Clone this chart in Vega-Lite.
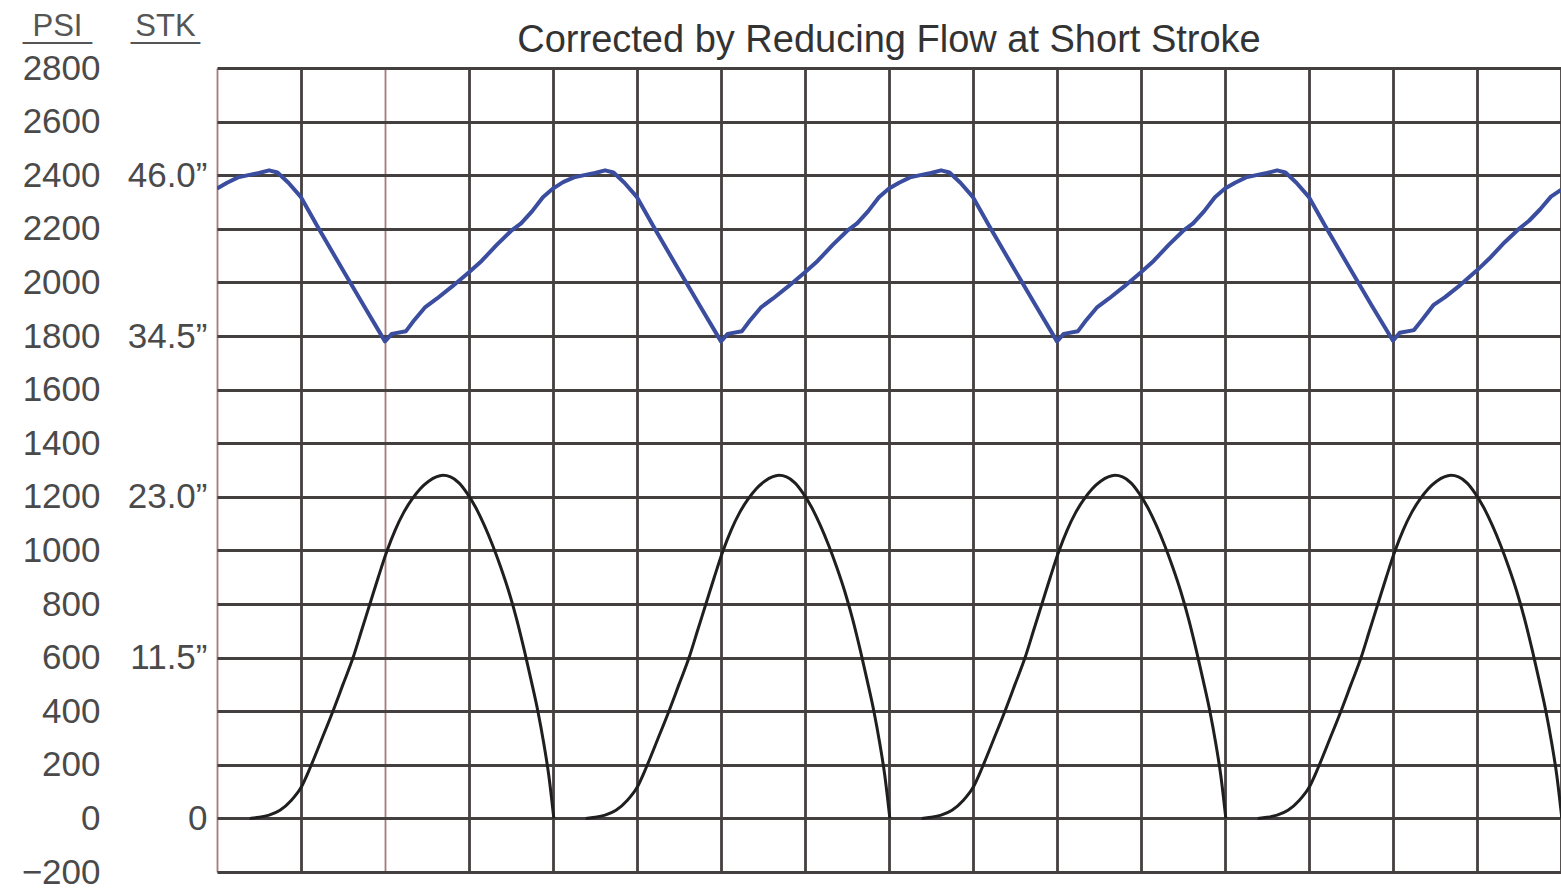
{
  "$schema": "https://vega.github.io/schema/vega-lite/v6.json",
  "width": 1344,
  "height": 804,
  "autosize": {"type": "none"},
  "padding": {"left": 217, "top": 68, "right": 0, "bottom": 18},
  "background": "white",
  "config": {"view": {"stroke": null}},
  "title": {
    "text": "Corrected by Reducing Flow at Short Stroke",
    "font": "Liberation Sans",
    "fontSize": 38,
    "fontWeight": "normal",
    "color": "#333333",
    "anchor": "middle",
    "frame": "group",
    "baseline": "alphabetic",
    "offset": -80
  },
  "datasets": {
    "psi": [
      {"u": 0.00, "v": 2350}, {"u": 0.12, "v": 2372}, {"u": 0.25, "v": 2392}, {"u": 0.40, "v": 2402}, {"u": 0.50, "v": 2408}, {"u": 0.62, "v": 2418}, {"u": 0.72, "v": 2410}, {"u": 0.85, "v": 2372}, {"u": 1.00, "v": 2318}, {"u": 1.20, "v": 2207}, {"u": 1.50, "v": 2045}, {"u": 1.75, "v": 1912}, {"u": 2.00, "v": 1780}, {"u": 2.08, "v": 1808}, {"u": 2.25, "v": 1818}, {"u": 2.35, "v": 1860}, {"u": 2.48, "v": 1908}, {"u": 2.62, "v": 1940}, {"u": 2.80, "v": 1985}, {"u": 3.00, "v": 2038}, {"u": 3.15, "v": 2080}, {"u": 3.33, "v": 2140}, {"u": 3.50, "v": 2192}, {"u": 3.62, "v": 2220}, {"u": 3.75, "v": 2265}, {"u": 3.88, "v": 2318},
      {"u": 4.00, "v": 2350}, {"u": 4.12, "v": 2374}, {"u": 4.25, "v": 2392}, {"u": 4.40, "v": 2402}, {"u": 4.50, "v": 2408}, {"u": 4.62, "v": 2418}, {"u": 4.72, "v": 2410}, {"u": 4.85, "v": 2372}, {"u": 5.00, "v": 2318}, {"u": 5.20, "v": 2207}, {"u": 5.50, "v": 2045}, {"u": 5.75, "v": 1912}, {"u": 6.00, "v": 1780}, {"u": 6.08, "v": 1808}, {"u": 6.25, "v": 1818}, {"u": 6.35, "v": 1860}, {"u": 6.48, "v": 1908}, {"u": 6.62, "v": 1940}, {"u": 6.80, "v": 1985}, {"u": 7.00, "v": 2038}, {"u": 7.15, "v": 2080}, {"u": 7.33, "v": 2140}, {"u": 7.50, "v": 2192}, {"u": 7.62, "v": 2220}, {"u": 7.75, "v": 2265}, {"u": 7.88, "v": 2318},
      {"u": 8.00, "v": 2350}, {"u": 8.12, "v": 2372}, {"u": 8.25, "v": 2392}, {"u": 8.40, "v": 2402}, {"u": 8.50, "v": 2408}, {"u": 8.62, "v": 2418}, {"u": 8.72, "v": 2410}, {"u": 8.85, "v": 2372}, {"u": 9.00, "v": 2318}, {"u": 9.20, "v": 2207}, {"u": 9.50, "v": 2045}, {"u": 9.75, "v": 1912}, {"u": 10.00, "v": 1780}, {"u": 10.08, "v": 1808}, {"u": 10.25, "v": 1818}, {"u": 10.35, "v": 1860}, {"u": 10.48, "v": 1908}, {"u": 10.62, "v": 1940}, {"u": 10.80, "v": 1985}, {"u": 11.00, "v": 2038}, {"u": 11.15, "v": 2080}, {"u": 11.33, "v": 2140}, {"u": 11.50, "v": 2192}, {"u": 11.62, "v": 2220}, {"u": 11.75, "v": 2265}, {"u": 11.88, "v": 2318},
      {"u": 12.00, "v": 2350}, {"u": 12.12, "v": 2372}, {"u": 12.25, "v": 2392}, {"u": 12.40, "v": 2402}, {"u": 12.50, "v": 2408}, {"u": 12.62, "v": 2418}, {"u": 12.72, "v": 2410}, {"u": 12.85, "v": 2372}, {"u": 13.00, "v": 2318}, {"u": 13.20, "v": 2207}, {"u": 13.50, "v": 2045}, {"u": 13.75, "v": 1912}, {"u": 14.00, "v": 1782}, {"u": 14.08, "v": 1812}, {"u": 14.25, "v": 1822}, {"u": 14.35, "v": 1862}, {"u": 14.48, "v": 1915}, {"u": 14.62, "v": 1945}, {"u": 14.80, "v": 1990}, {"u": 15.00, "v": 2045}, {"u": 15.15, "v": 2090}, {"u": 15.33, "v": 2150}, {"u": 15.50, "v": 2200}, {"u": 15.62, "v": 2230}, {"u": 15.75, "v": 2272}, {"u": 15.88, "v": 2320}, {"u": 16.00, "v": 2345}
    ],
    "stk": [
      {"cycle": 1, "u": 0.39, "v": 0}, {"cycle": 1, "u": 0.50, "v": 4}, {"cycle": 1, "u": 0.62, "v": 12}, {"cycle": 1, "u": 0.75, "v": 30}, {"cycle": 1, "u": 0.88, "v": 66}, {"cycle": 1, "u": 1.00, "v": 115}, {"cycle": 1, "u": 1.11, "v": 190}, {"cycle": 1, "u": 1.25, "v": 298}, {"cycle": 1, "u": 1.38, "v": 400}, {"cycle": 1, "u": 1.50, "v": 500}, {"cycle": 1, "u": 1.62, "v": 600}, {"cycle": 1, "u": 1.72, "v": 700}, {"cycle": 1, "u": 1.82, "v": 800}, {"cycle": 1, "u": 1.92, "v": 900}, {"cycle": 1, "u": 2.02, "v": 995}, {"cycle": 1, "u": 2.12, "v": 1075}, {"cycle": 1, "u": 2.22, "v": 1140}, {"cycle": 1, "u": 2.32, "v": 1190}, {"cycle": 1, "u": 2.42, "v": 1230}, {"cycle": 1, "u": 2.52, "v": 1258}, {"cycle": 1, "u": 2.61, "v": 1274}, {"cycle": 1, "u": 2.69, "v": 1280}, {"cycle": 1, "u": 2.78, "v": 1274}, {"cycle": 1, "u": 2.88, "v": 1252}, {"cycle": 1, "u": 2.98, "v": 1212}, {"cycle": 1, "u": 3.08, "v": 1160}, {"cycle": 1, "u": 3.18, "v": 1095}, {"cycle": 1, "u": 3.28, "v": 1020}, {"cycle": 1, "u": 3.38, "v": 935}, {"cycle": 1, "u": 3.48, "v": 840}, {"cycle": 1, "u": 3.57, "v": 740}, {"cycle": 1, "u": 3.66, "v": 625}, {"cycle": 1, "u": 3.74, "v": 515}, {"cycle": 1, "u": 3.82, "v": 400}, {"cycle": 1, "u": 3.89, "v": 280}, {"cycle": 1, "u": 3.95, "v": 160}, {"cycle": 1, "u": 4.01, "v": 0},
      {"cycle": 2, "u": 4.39, "v": 0}, {"cycle": 2, "u": 4.50, "v": 4}, {"cycle": 2, "u": 4.62, "v": 12}, {"cycle": 2, "u": 4.75, "v": 30}, {"cycle": 2, "u": 4.88, "v": 66}, {"cycle": 2, "u": 5.00, "v": 115}, {"cycle": 2, "u": 5.11, "v": 190}, {"cycle": 2, "u": 5.25, "v": 298}, {"cycle": 2, "u": 5.38, "v": 400}, {"cycle": 2, "u": 5.50, "v": 500}, {"cycle": 2, "u": 5.62, "v": 600}, {"cycle": 2, "u": 5.72, "v": 700}, {"cycle": 2, "u": 5.82, "v": 800}, {"cycle": 2, "u": 5.92, "v": 900}, {"cycle": 2, "u": 6.02, "v": 995}, {"cycle": 2, "u": 6.12, "v": 1075}, {"cycle": 2, "u": 6.22, "v": 1140}, {"cycle": 2, "u": 6.32, "v": 1190}, {"cycle": 2, "u": 6.42, "v": 1230}, {"cycle": 2, "u": 6.52, "v": 1258}, {"cycle": 2, "u": 6.61, "v": 1274}, {"cycle": 2, "u": 6.69, "v": 1280}, {"cycle": 2, "u": 6.78, "v": 1274}, {"cycle": 2, "u": 6.88, "v": 1252}, {"cycle": 2, "u": 6.98, "v": 1212}, {"cycle": 2, "u": 7.08, "v": 1160}, {"cycle": 2, "u": 7.18, "v": 1095}, {"cycle": 2, "u": 7.28, "v": 1020}, {"cycle": 2, "u": 7.38, "v": 935}, {"cycle": 2, "u": 7.48, "v": 840}, {"cycle": 2, "u": 7.57, "v": 740}, {"cycle": 2, "u": 7.66, "v": 625}, {"cycle": 2, "u": 7.74, "v": 515}, {"cycle": 2, "u": 7.82, "v": 400}, {"cycle": 2, "u": 7.89, "v": 280}, {"cycle": 2, "u": 7.95, "v": 160}, {"cycle": 2, "u": 8.01, "v": 0},
      {"cycle": 3, "u": 8.39, "v": 0}, {"cycle": 3, "u": 8.50, "v": 4}, {"cycle": 3, "u": 8.62, "v": 12}, {"cycle": 3, "u": 8.75, "v": 30}, {"cycle": 3, "u": 8.88, "v": 66}, {"cycle": 3, "u": 9.00, "v": 115}, {"cycle": 3, "u": 9.11, "v": 190}, {"cycle": 3, "u": 9.25, "v": 298}, {"cycle": 3, "u": 9.38, "v": 400}, {"cycle": 3, "u": 9.50, "v": 500}, {"cycle": 3, "u": 9.62, "v": 600}, {"cycle": 3, "u": 9.72, "v": 700}, {"cycle": 3, "u": 9.82, "v": 800}, {"cycle": 3, "u": 9.92, "v": 900}, {"cycle": 3, "u": 10.02, "v": 995}, {"cycle": 3, "u": 10.12, "v": 1075}, {"cycle": 3, "u": 10.22, "v": 1140}, {"cycle": 3, "u": 10.32, "v": 1190}, {"cycle": 3, "u": 10.42, "v": 1230}, {"cycle": 3, "u": 10.52, "v": 1258}, {"cycle": 3, "u": 10.61, "v": 1274}, {"cycle": 3, "u": 10.69, "v": 1280}, {"cycle": 3, "u": 10.78, "v": 1274}, {"cycle": 3, "u": 10.88, "v": 1252}, {"cycle": 3, "u": 10.98, "v": 1212}, {"cycle": 3, "u": 11.08, "v": 1160}, {"cycle": 3, "u": 11.18, "v": 1095}, {"cycle": 3, "u": 11.28, "v": 1020}, {"cycle": 3, "u": 11.38, "v": 935}, {"cycle": 3, "u": 11.48, "v": 840}, {"cycle": 3, "u": 11.57, "v": 740}, {"cycle": 3, "u": 11.66, "v": 625}, {"cycle": 3, "u": 11.74, "v": 515}, {"cycle": 3, "u": 11.82, "v": 400}, {"cycle": 3, "u": 11.89, "v": 280}, {"cycle": 3, "u": 11.95, "v": 160}, {"cycle": 3, "u": 12.01, "v": 0},
      {"cycle": 4, "u": 12.39, "v": 0}, {"cycle": 4, "u": 12.50, "v": 4}, {"cycle": 4, "u": 12.62, "v": 12}, {"cycle": 4, "u": 12.75, "v": 30}, {"cycle": 4, "u": 12.88, "v": 66}, {"cycle": 4, "u": 13.00, "v": 115}, {"cycle": 4, "u": 13.11, "v": 190}, {"cycle": 4, "u": 13.25, "v": 298}, {"cycle": 4, "u": 13.38, "v": 400}, {"cycle": 4, "u": 13.50, "v": 500}, {"cycle": 4, "u": 13.62, "v": 600}, {"cycle": 4, "u": 13.72, "v": 700}, {"cycle": 4, "u": 13.82, "v": 800}, {"cycle": 4, "u": 13.92, "v": 900}, {"cycle": 4, "u": 14.02, "v": 995}, {"cycle": 4, "u": 14.12, "v": 1075}, {"cycle": 4, "u": 14.22, "v": 1140}, {"cycle": 4, "u": 14.32, "v": 1190}, {"cycle": 4, "u": 14.42, "v": 1230}, {"cycle": 4, "u": 14.52, "v": 1258}, {"cycle": 4, "u": 14.61, "v": 1274}, {"cycle": 4, "u": 14.69, "v": 1280}, {"cycle": 4, "u": 14.78, "v": 1274}, {"cycle": 4, "u": 14.88, "v": 1252}, {"cycle": 4, "u": 14.98, "v": 1212}, {"cycle": 4, "u": 15.08, "v": 1160}, {"cycle": 4, "u": 15.18, "v": 1095}, {"cycle": 4, "u": 15.28, "v": 1020}, {"cycle": 4, "u": 15.38, "v": 935}, {"cycle": 4, "u": 15.48, "v": 840}, {"cycle": 4, "u": 15.57, "v": 740}, {"cycle": 4, "u": 15.66, "v": 625}, {"cycle": 4, "u": 15.74, "v": 515}, {"cycle": 4, "u": 15.82, "v": 400}, {"cycle": 4, "u": 15.89, "v": 280}, {"cycle": 4, "u": 15.95, "v": 160}, {"cycle": 4, "u": 16.01, "v": 0}
    ]
  },
  "layer": [
    {
      "data": {"name": "psi"},
      "mark": {"type": "line", "color": "#3b4d9e", "strokeWidth": 4, "strokeJoin": "round", "clip": true},
      "encoding": {
        "x": {
          "field": "u", "type": "quantitative",
          "scale": {"domain": [0, 16], "nice": false, "zero": false},
          "axis": {
            "values": [0, 1, 2, 3, 4, 5, 6, 7, 8, 9, 10, 11, 12, 13, 14, 15, 16],
            "grid": true, "labels": false, "ticks": false, "domain": false, "title": null,
            "gridColor": {"condition": {"test": "datum.value == 0 || datum.value == 2", "value": "#a77b7b"}, "value": "#453f3f"},
            "gridWidth": {"condition": {"test": "datum.value == 0 || datum.value == 2", "value": 1.8}, "value": 2.8},
            "gridOpacity": 1
          }
        },
        "y": {
          "field": "v", "type": "quantitative",
          "scale": {"domain": [-200, 2800], "nice": false, "zero": false},
          "axis": {
            "orient": "left",
            "values": [-200, 0, 200, 400, 600, 800, 1000, 1200, 1400, 1600, 1800, 2000, 2200, 2400, 2600, 2800],
            "format": "d",
            "grid": true, "gridColor": "#454040", "gridWidth": 2.8, "gridOpacity": 1,
            "ticks": false, "tickSize": 0, "domain": false,
            "labelFont": "Liberation Sans", "labelFontSize": 35, "labelColor": "#4a4a4a",
            "labelPadding": 117, "labelAlign": "right", "labelBaseline": "middle",
            "labelFlush": false, "labelOverlap": false,
            "title": ["PSI", "____"],
            "titleFont": "Liberation Sans", "titleFontSize": 31, "titleFontWeight": "normal", "titleColor": "#555555",
            "titleAngle": 0, "titleAlign": "center", "titleBaseline": "alphabetic",
            "titleX": -160, "titleY": -33, "titleLineHeight": 2
          }
        }
      }
    },
    {
      "data": {"name": "stk"},
      "mark": {"type": "line", "color": "#1f1f1f", "strokeWidth": 3, "interpolate": "monotone", "clip": true},
      "encoding": {
        "x": {"field": "u", "type": "quantitative"},
        "y": {
          "field": "v", "type": "quantitative",
          "axis": {
            "orient": "left",
            "values": [0, 600, 1200, 1800, 2400],
            "labelExpr": "datum.value == 0 ? '0' : datum.value == 600 ? '11.5\u201d' : datum.value == 1200 ? '23.0\u201d' : datum.value == 1800 ? '34.5\u201d' : '46.0\u201d'",
            "grid": false, "ticks": false, "tickSize": 0, "domain": false,
            "labelFont": "Liberation Sans", "labelFontSize": 35, "labelColor": "#4a4a4a",
            "labelPadding": 10, "labelAlign": "right", "labelBaseline": "middle",
            "labelFlush": false, "labelOverlap": false,
            "title": ["STK", "____"],
            "titleFont": "Liberation Sans", "titleFontSize": 31, "titleFontWeight": "normal", "titleColor": "#555555",
            "titleAngle": 0, "titleAlign": "center", "titleBaseline": "alphabetic",
            "titleX": -52, "titleY": -33, "titleLineHeight": 2
          }
        },
        "detail": {"field": "cycle", "type": "nominal"}
      }
    }
  ],
  "resolve": {"axis": {"y": "independent"}}
}
